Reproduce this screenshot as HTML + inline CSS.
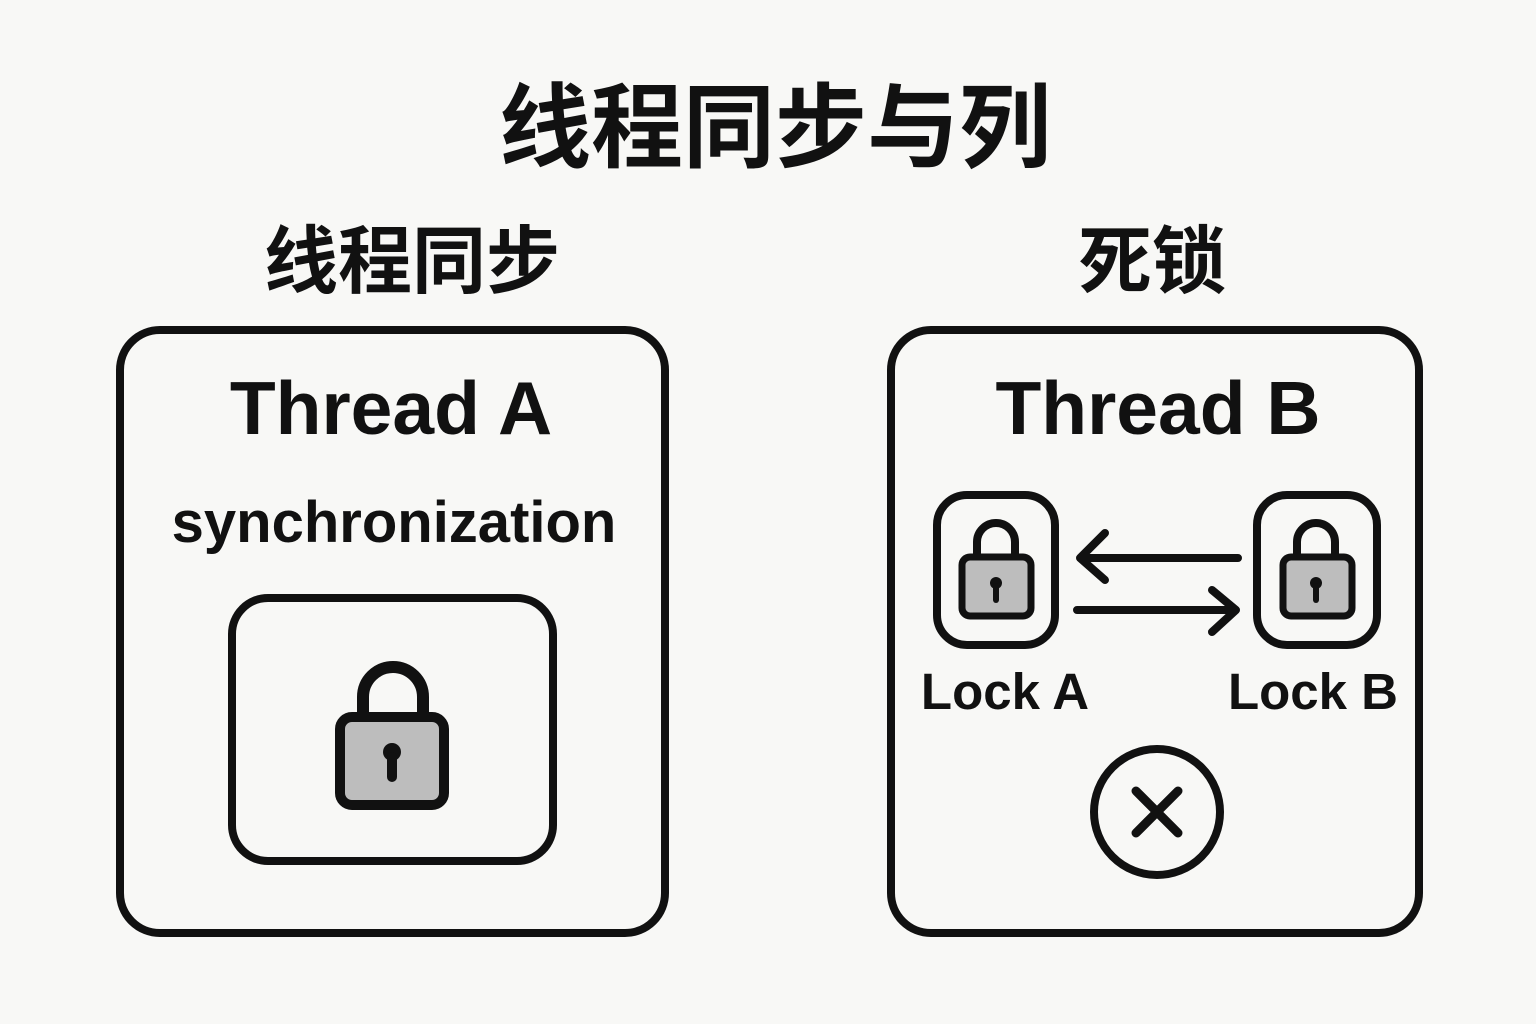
<!DOCTYPE html>
<html><head><meta charset="utf-8"><style>
html,body{margin:0;padding:0;background:#f8f8f6;}
svg{display:block}
</style></head><body>
<svg width="1536" height="1024" viewBox="0 0 1536 1024" xmlns="http://www.w3.org/2000/svg">
<rect width="1536" height="1024" fill="#f8f8f6"/>
<g font-family="'Liberation Sans','Noto Sans CJK SC',sans-serif" font-weight="bold" fill="#111" text-anchor="middle">
<text x="775" y="160" font-size="92">线程同步与列</text>
<text x="412" y="287" font-size="74">线程同步</text>
<text x="1152" y="287" font-size="74">死锁</text>
<text x="391" y="434" font-size="75">Thread A</text>
<text x="394" y="542" font-size="58">synchronization</text>
<text x="1158" y="434" font-size="75">Thread B</text>
<text x="1005" y="709" font-size="51">Lock A</text>
<text x="1313" y="709" font-size="51">Lock B</text>
</g>
<g fill="none" stroke="#111" stroke-width="8" stroke-linecap="round" stroke-linejoin="round">
<rect x="120" y="330" width="545" height="603" rx="40"/>
<rect x="891" y="330" width="528" height="603" rx="40"/>
<rect x="232" y="598" width="321" height="263" rx="36"/>
<rect x="937" y="495" width="118" height="150" rx="30"/>
<rect x="1257" y="495" width="120" height="150" rx="30"/>
<path d="M1238 558 H1080 M1105 533 L1080 558 L1105 580"/>
<path d="M1077 610 H1236 M1212 590 L1236 610 L1212 632"/>
<circle cx="1157" cy="812" r="63"/>
<path d="M1136 791 L1178 833 M1178 791 L1136 833" stroke-width="9"/>
</g>
<g stroke="#111" stroke-linejoin="round">
<path d="M363 718 V697 A30 30 0 0 1 423 697 V718" fill="none" stroke-width="12"/>
<rect x="340" y="717" width="104" height="88" rx="12" fill="#bdbdbd" stroke-width="10"/>
</g>
<circle cx="392" cy="752" r="9" fill="#111"/>
<rect x="387" y="752" width="10" height="30" rx="5" fill="#111"/>
<g stroke="#111" stroke-linejoin="round">
<path d="M977 558 V542 A19 19 0 0 1 1015 542 V558" fill="none" stroke-width="8"/>
<rect x="962" y="557" width="69" height="59" rx="8" fill="#bdbdbd" stroke-width="7"/>
<path d="M1297 558 V542 A19 19 0 0 1 1335 542 V558" fill="none" stroke-width="8"/>
<rect x="1283" y="557" width="69" height="59" rx="8" fill="#bdbdbd" stroke-width="7"/>
</g>
<g fill="#111">
<circle cx="996" cy="583" r="6"/><rect x="993" y="583" width="6" height="20" rx="3"/>
<circle cx="1316" cy="583" r="6"/><rect x="1313" y="583" width="6" height="20" rx="3"/>
</g>
</svg>
</body></html>
